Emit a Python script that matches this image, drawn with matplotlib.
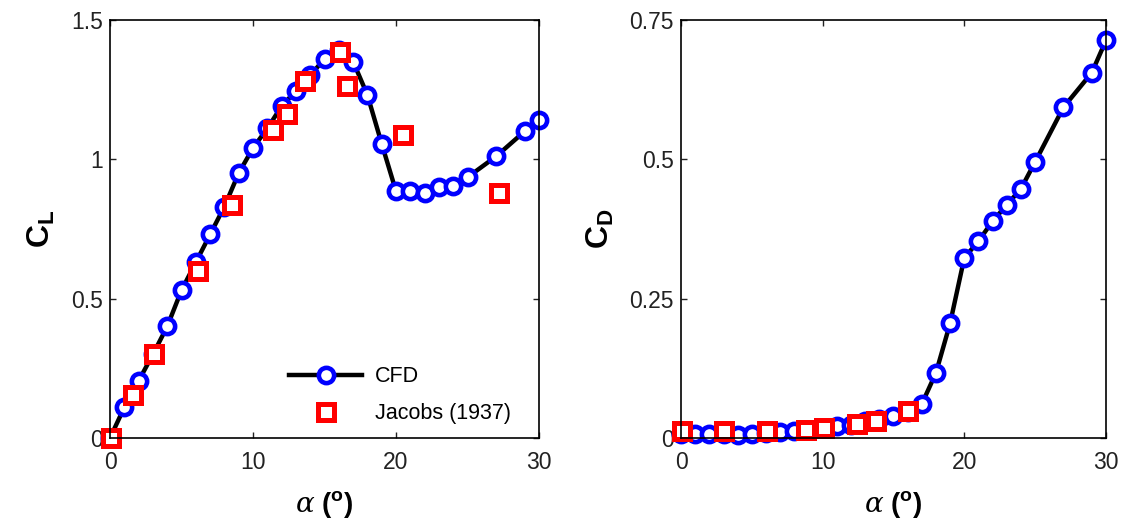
import numpy as np
import matplotlib
matplotlib.use('Agg')
import matplotlib.pyplot as plt

plt.rcParams['font.family'] = ['Liberation Sans', 'DejaVu Sans']
plt.rcParams['mathtext.fontset'] = 'custom'
plt.rcParams['mathtext.rm'] = 'Liberation Sans'
plt.rcParams['mathtext.bf'] = 'Liberation Sans:bold'
plt.rcParams['mathtext.it'] = 'DejaVu Serif:italic'

# CFD results
alpha_cfd = [0, 1, 2, 3, 4, 5, 6, 7, 8, 9, 10, 11, 12, 13, 14, 15, 16, 17, 18, 19,
             20, 21, 22, 23, 24, 25, 27, 29, 30]
cl_cfd = [0.0, 0.11, 0.205, 0.30, 0.40, 0.53, 0.63, 0.73, 0.83, 0.95, 1.04, 1.11,
          1.19, 1.245, 1.30, 1.36, 1.39, 1.35, 1.23, 1.055, 0.885, 0.885, 0.88,
          0.90, 0.905, 0.935, 1.01, 1.10, 1.14]
cd_cfd = [0.008, 0.008, 0.008, 0.008, 0.006, 0.007, 0.009, 0.011, 0.013, 0.015,
          0.018, 0.022, 0.024, 0.030, 0.035, 0.040, 0.046, 0.061, 0.117, 0.206,
          0.323, 0.353, 0.389, 0.418, 0.447, 0.495, 0.593, 0.655, 0.713]

# Jacobs (1937) experiment
alpha_exp_cl = [0.1, 1.6, 3.05, 6.15, 8.55, 11.4, 12.35, 13.65, 16.05, 16.6, 20.5, 27.2]
cl_exp = [0.0, 0.153, 0.30, 0.60, 0.835, 1.105, 1.163, 1.281, 1.386, 1.263, 1.088, 0.878]
alpha_exp_cd = [0.1, 3.05, 6.1, 8.8, 10.1, 12.4, 13.8, 16.0]
cd_exp = [0.012, 0.013, 0.012, 0.015, 0.018, 0.025, 0.031, 0.048]

fig = plt.figure(figsize=(11.26, 5.19), dpi=100)
ax1 = fig.add_axes([0.0977, 0.156, 0.381, 0.806])
ax2 = fig.add_axes([0.6048, 0.156, 0.3774, 0.806])

cfd_style = dict(color='black', lw=3.2, marker='o', ms=11, mec='blue', mfc='white', mew=3.3)
exp_style = dict(ls='none', marker='s', ms=12, mec='red', mfc='white', mew=3.6)

ax1.plot(alpha_cfd, cl_cfd, label='CFD', **cfd_style)
ax1.plot(alpha_exp_cl, cl_exp, label='Jacobs (1937)', **exp_style)
ax2.plot(alpha_cfd, cd_cfd, **cfd_style)
ax2.plot(alpha_exp_cd, cd_exp, **exp_style)

ax1.set_ylim(0, 1.5)
ax1.set_yticks([0, 0.5, 1, 1.5])
ax1.set_yticklabels(['0', '0.5', '1', '1.5'])
ax2.set_ylim(0, 0.75)
ax2.set_yticks([0, 0.25, 0.5, 0.75])
ax2.set_yticklabels(['0', '0.25', '0.5', '0.75'])

for ax in (ax1, ax2):
    ax.set_xlim(0, 30)
    ax.set_xticks([0, 10, 20, 30])
    ax.tick_params(direction='in', top=True, right=True, length=4, width=1,
                   labelsize=16.5, colors='#222222')
    ax.tick_params(axis='y', pad=5)
    ax.tick_params(axis='x', pad=9)
    for s in ax.spines.values():
        s.set_linewidth(1.2)
    for line in ax.get_lines():
        line.set_clip_on(False)
    ax.set_xlabel(r'$\alpha$ ($^{\mathbf{o}}$)', fontsize=20, fontweight='bold', labelpad=11)

ax1.set_ylabel(r'$\mathbf{C_L}$', fontsize=23, labelpad=10)
ax2.set_ylabel(r'$\mathbf{C_D}$', fontsize=23, labelpad=10)

ax1.legend(loc='lower right', bbox_to_anchor=(0.955, 0.012), frameon=False,
           fontsize=15.5, handlelength=3.4, handletextpad=0.6,
           borderaxespad=0.0, labelspacing=0.75)

fig.savefig('out.png', dpi=100)
